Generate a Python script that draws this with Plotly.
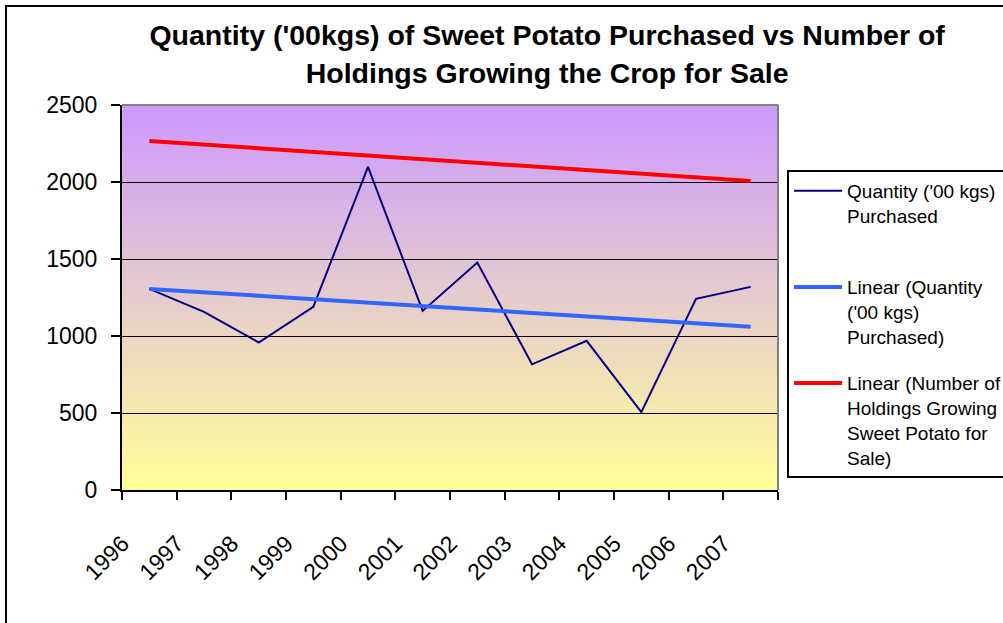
import plotly.graph_objects as go

# values
years = ["1996", "1997", "1998", "1999", "2000", "2001",
         "2002", "2003", "2004", "2005", "2006", "2007"]
quantity = [1306, 1157, 958, 1189, 2098, 1163, 1477, 816, 969, 506, 1241, 1319]

trend_years = ["1996", "2007"]
quantity_trend = [1306, 1060]
holdings_trend = [2266, 2007]

y_ticks = [0, 500, 1000, 1500, 2000, 2500]

FONT = "Liberation Sans, Arial, sans-serif"
TOP_COLOR = (204, 153, 255)
BOTTOM_COLOR = (255, 255, 153)


def gradient_shapes(steps=80):
    shapes = []
    for i in range(steps):
        t = i / (steps - 1)
        r, g, b = (round(BOTTOM_COLOR[k] + (TOP_COLOR[k] - BOTTOM_COLOR[k]) * t) for k in range(3))
        shapes.append(dict(
            type="rect", xref="x domain", yref="y domain",
            x0=0, x1=1, y0=i / steps, y1=(i + 1) / steps + 0.002,
            fillcolor=f"rgb({r},{g},{b})", line_width=0, layer="below",
        ))
    return shapes


fig = go.Figure()
fig.add_trace(go.Scatter(
    x=years, y=quantity, mode="lines", legendgroup="a",
    name="Quantity ('00 kgs)<br>Purchased<br> ",
    line=dict(color="#000080", width=2),
))
fig.add_trace(go.Scatter(
    x=trend_years, y=quantity_trend, mode="lines", legendgroup="b",
    name="Linear (Quantity<br>('00 kgs)<br>Purchased)",
    line=dict(color="#3366FF", width=4),
))
fig.add_trace(go.Scatter(
    x=trend_years, y=holdings_trend, mode="lines", legendgroup="c",
    name="Linear (Number of<br>Holdings Growing<br>Sweet Potato for<br>Sale)",
    line=dict(color="#FF0000", width=4),
))

shapes = gradient_shapes()
# plot area border (top and right are grey, the axes draw the rest)
shapes.append(dict(type="line", xref="x domain", yref="y domain", x0=0, x1=1, y0=1, y1=1,
                   line=dict(color="#808080", width=2), layer="above"))
shapes.append(dict(type="line", xref="x domain", yref="y domain", x0=1, x1=1, y0=0, y1=1,
                   line=dict(color="#808080", width=2), layer="above"))
# chart area frame (right and bottom edges fall outside the window)
shapes.append(dict(type="rect", xref="paper", yref="paper",
                   x0=-0.1768, x1=1.36, y0=-0.40, y1=1.257,
                   line=dict(color="black", width=2), fillcolor="rgba(0,0,0,0)", layer="above"))

fig.update_layout(
    width=1003, height=623,
    margin=dict(l=122, r=225, t=105, b=133),
    paper_bgcolor="white",
    plot_bgcolor="white",
    font=dict(family=FONT, color="black"),
    title=dict(
        text="<b>Quantity ('00kgs) of Sweet Potato Purchased vs Number of<br>"
             "Holdings Growing the Crop for Sale</b>",
        x=0.5455, xanchor="center", xref="container",
        y=0.927, yanchor="top", yref="container",
        font=dict(family=FONT, size=28.5, color="black"),
    ),
    showlegend=True,
    legend=dict(
        xref="container", yref="container",
        x=0.7847, xanchor="left", y=0.7271, yanchor="top",
        bgcolor="white", bordercolor="black", borderwidth=2,
        font=dict(family=FONT, size=19, color="black"),
        valign="top", itemwidth=48, tracegroupgap=19,
    ),
    shapes=shapes,
)

fig.update_xaxes(
    type="category", categoryorder="array", categoryarray=years, range=[-0.5, 11.5],
    tickson="boundaries", ticks="outside", ticklen=8, tickwidth=2, tickcolor="black",
    showline=True, linecolor="black", linewidth=2, showgrid=False, automargin=False,
    tickangle=-45, tickfont=dict(family=FONT, size=23, color="black"),
    ticklabelstandoff=29, ticklabelshift=-27,
)
fig.update_yaxes(
    range=[0, 2500], tickvals=y_ticks, automargin=False,
    ticks="outside", ticklen=9, tickwidth=2, tickcolor="black",
    showline=True, linecolor="black", linewidth=2,
    showgrid=True, gridcolor="black", gridwidth=1, zeroline=False,
    tickfont=dict(family=FONT, size=23, color="black"),
    ticklabelstandoff=9,
)

# drop the page's default 8px body margin so the figure sits at the window corner
fig.write_html("out.html", config={"displayModeBar": False},
               post_script="document.body.style.margin = '0';")
